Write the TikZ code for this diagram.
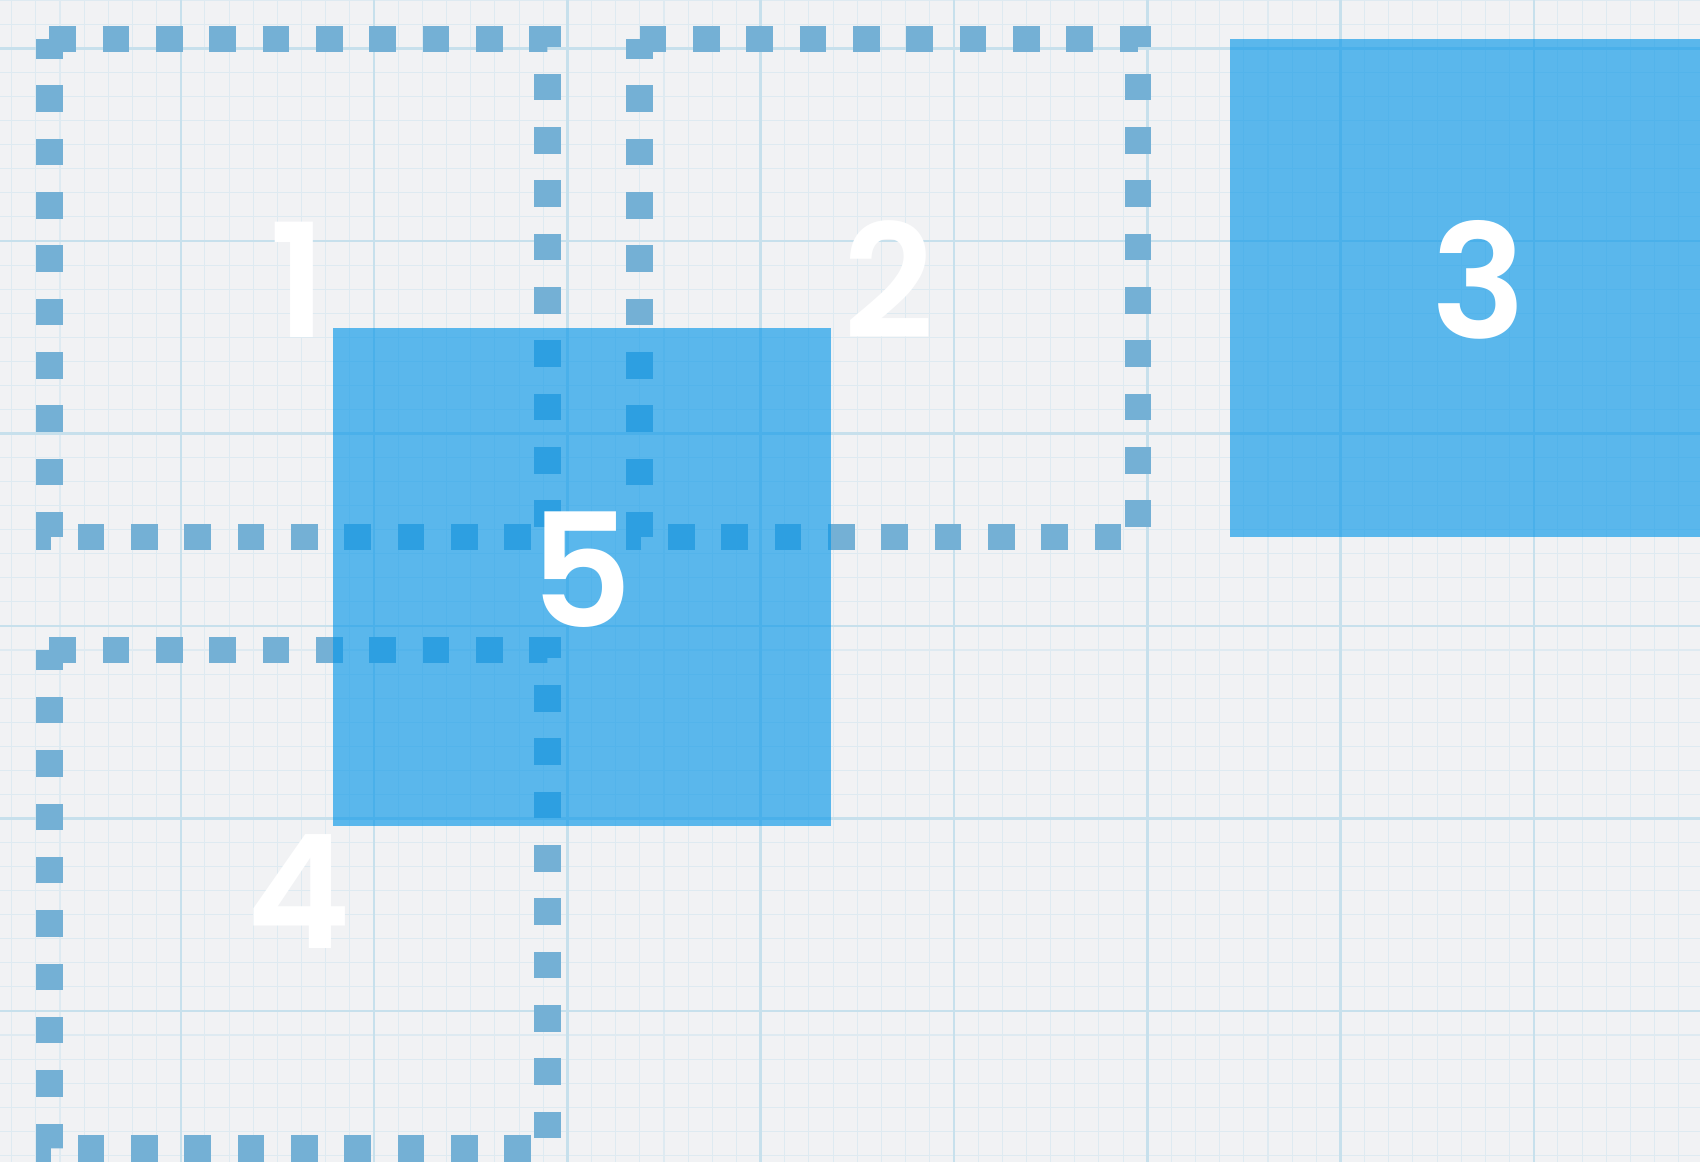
\documentclass[tikz,border=0pt]{standalone}
\usepackage{fontspec}
\setmainfont{Poppins}[BoldFont={Poppins SemiBold}]
\usetikzlibrary{positioning}

\definecolor{paper}{RGB}{241,242,244}
\definecolor{minorgrid}{RGB}{222,234,241}
\definecolor{majorgrid}{RGB}{199,224,236}
\definecolor{dotblue}{RGB}{116,176,213}
\definecolor{tileblue}{RGB}{5,150,233}

\tikzset{
  slot/.style={minimum size=4.98cm, inner sep=0pt, outer sep=0pt, text=white, text depth=0.16cm, font=\fontsize{45}{45}\selectfont\bfseries},
  tile/.style={slot, fill=tileblue, fill opacity=0.64, text opacity=1},
  dotrim/.style={draw=dotblue, line width=0.265cm, dash pattern=on 0.265cm off 0.268cm},
}

\begin{document}
\begin{tikzpicture}[x=0.01cm, y=-0.01cm, node distance=5.9cm]
    \useasboundingbox (0,0) rectangle (1700,1162);
    \clip (0,0) rectangle (1700,1162);
    % graph paper
    \fill[paper] (0,0) rectangle (1700,1162);
    \foreach \k in {0,...,71}
        \draw[minorgrid, line width=0.3pt] ({-12.5+24.16*\k},0) -- ++(0,1162);
    \foreach \k in {-2,...,46}
        \draw[minorgrid, line width=0.3pt] (0,{48.5+24.06*\k}) -- ++(1700,0);
    \foreach \k in {1,...,9}
        \draw[majorgrid, line width=0.7pt] ({-12.5+193.3*\k},0) -- ++(0,1162);
    \foreach \k in {0,...,6}
        \draw[majorgrid, line width=0.7pt] (0,{48.5+192.5*\k}) -- ++(1700,0);

    % empty slots
    \node (box1) [slot] at (298.5,287.9) {1};
    \node (box2) [slot, right of=box1] {2};
    \node (box4) [slot, below of=box1, node distance=6.11cm] {4};
    \foreach \b in {box1,box2,box4}
        \draw[dotrim] (\b.north west) -- (\b.north east) -- (\b.south east) -- (\b.south west) -- cycle;

    % filled tiles
    \node (tile3) [tile, right of=box2] {3};
    \node (tile5) [tile] at (581.75,577.25) {5};
\end{tikzpicture}
\end{document}
